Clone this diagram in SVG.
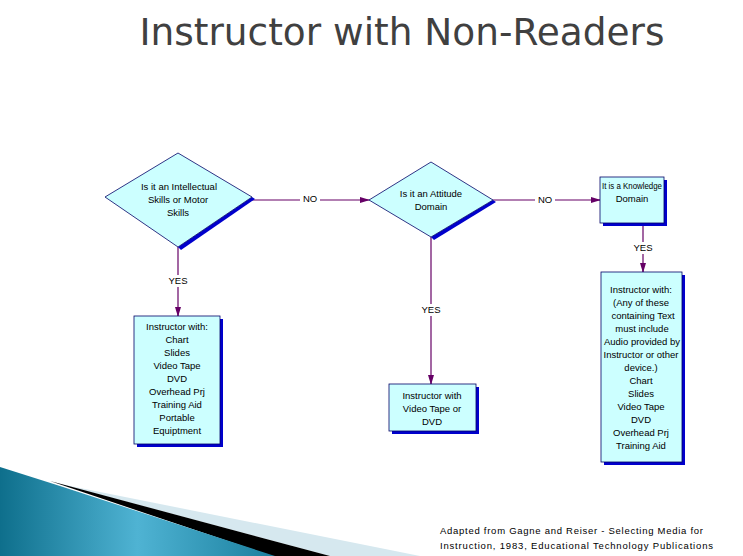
<svg xmlns="http://www.w3.org/2000/svg" width="743" height="556" viewBox="0 0 743 556">
<defs>
<style>
.t{font-family:"Liberation Sans",Arial,sans-serif;font-size:9.5px;fill:#000;text-anchor:middle}
.box{fill:#ccffff;stroke:#000066;stroke-width:0.8}
.sh{fill:#0000cc}
.ln{stroke:#660066;stroke-width:1.2;fill:none}
.lbl{font-family:"Liberation Sans",Arial,sans-serif;font-size:9.5px;text-anchor:middle;fill:#000}
</style>
<marker id="ah" markerWidth="10" markerHeight="8" refX="9" refY="4" orient="auto" markerUnits="userSpaceOnUse">
<path d="M0,1 L10,4 L0,7 Z" fill="#660066"/>
</marker>
<linearGradient id="wg" x1="0" y1="0" x2="1" y2="0">
<stop offset="0" stop-color="#0e6f8c"/>
<stop offset="0.5" stop-color="#4fb3d3"/>
<stop offset="1" stop-color="#1a7f9e"/>
</linearGradient>
</defs>
<rect width="743" height="556" fill="#fff"/>
<polygon points="60,484 420,556 330,556" fill="#d6e8ef"/>
<polygon points="50,481 330,556 272,556" fill="#000"/>
<polygon points="0,467 60,486 275,556 0,556" fill="url(#wg)"/>
<text x="402" y="45" font-family="'DejaVu Sans',sans-serif" font-size="37" fill="#404040" text-anchor="middle" textLength="525" lengthAdjust="spacingAndGlyphs">Instructor with Non-Readers</text>
<g id="connectors">
<line class="ln" x1="252" y1="200" x2="369" y2="200" marker-end="url(#ah)"/>
<line class="ln" x1="493" y1="200" x2="600" y2="200" marker-end="url(#ah)"/>
<line class="ln" x1="178" y1="247" x2="178" y2="316" marker-end="url(#ah)"/>
<line class="ln" x1="431" y1="237" x2="431" y2="384" marker-end="url(#ah)"/>
<line class="ln" x1="643" y1="223" x2="643" y2="272" marker-end="url(#ah)"/>
<rect x="300" y="193" width="20" height="12" fill="#fff"/><text class="lbl" x="310" y="202">NO</text>
<rect x="535" y="194" width="20" height="12" fill="#fff"/><text class="lbl" x="545" y="203">NO</text>
<rect x="165" y="275" width="26" height="12" fill="#fff"/><text class="lbl" x="178" y="284">YES</text>
<rect x="418" y="304" width="26" height="12" fill="#fff"/><text class="lbl" x="431" y="313">YES</text>
<rect x="630" y="242" width="26" height="12" fill="#fff"/><text class="lbl" x="643" y="251">YES</text>
</g>
<g id="d1">
<polygon class="sh" points="252,197 255,199 181,250 178,247"/>
<polygon class="box" points="105,197 178,153 252,197 178,247"/>
<text class="t" x="179" y="190">Is it an Intellectual</text>
<text class="t" x="178" y="203">Skills or Motor</text>
<text class="t" x="178" y="216">Skills</text>
</g>
<g id="d2">
<polygon class="sh" points="493,200 496,202 434,240 431,237"/>
<polygon class="box" points="369,200 431,162 493,200 431,237"/>
<text class="t" x="431" y="197">Is it an Attitude</text>
<text class="t" x="431" y="210">Domain</text>
</g>
<g id="b3">
<rect class="sh" x="603" y="180" width="64" height="46"/>
<rect class="box" x="600" y="177" width="64" height="46"/>
<text class="t" x="632" y="189" textLength="60" lengthAdjust="spacingAndGlyphs">It is a Knowledge</text>
<text class="t" x="632" y="202">Domain</text>
</g>
<g id="b1">
<rect class="sh" x="137" y="319" width="86" height="128"/>
<rect class="box" x="134" y="316" width="86" height="128"/>
<text class="t" x="177" y="330">Instructor with:</text>
<text class="t" x="177" y="343">Chart</text>
<text class="t" x="177" y="356">Slides</text>
<text class="t" x="177" y="369">Video Tape</text>
<text class="t" x="177" y="382">DVD</text>
<text class="t" x="177" y="395">Overhead Prj</text>
<text class="t" x="177" y="408">Training Aid</text>
<text class="t" x="177" y="421">Portable</text>
<text class="t" x="177" y="434">Equiptment</text>
</g>
<g id="b2">
<rect class="sh" x="392" y="387" width="87" height="47"/>
<rect class="box" x="389" y="384" width="87" height="47"/>
<text class="t" x="432" y="399">Instructor with</text>
<text class="t" x="432" y="412">Video Tape or</text>
<text class="t" x="432" y="425">DVD</text>
</g>
<g id="b4">
<rect class="sh" x="604" y="275" width="81" height="190"/>
<rect class="box" x="601" y="272" width="81" height="190"/>
<text class="t" x="641" y="293">Instructor with:</text>
<text class="t" x="641" y="306">(Any of these</text>
<text class="t" x="643" y="319">containing Text</text>
<text class="t" x="642" y="332">must include</text>
<text class="t" x="642" y="345">Audio provided by</text>
<text class="t" x="641" y="358">Instructor or other</text>
<text class="t" x="641" y="371">device.)</text>
<text class="t" x="641" y="384">Chart</text>
<text class="t" x="641" y="397">Slides</text>
<text class="t" x="641" y="410">Video Tape</text>
<text class="t" x="641" y="423">DVD</text>
<text class="t" x="641" y="436">Overhead Prj</text>
<text class="t" x="641" y="449">Training Aid</text>
</g>
<text x="440" y="534" font-family="'Liberation Sans',sans-serif" font-size="9.5" textLength="263" lengthAdjust="spacing">Adapted from Gagne and Reiser - Selecting Media for</text>
<text x="440" y="549" font-family="'Liberation Sans',sans-serif" font-size="9.5" textLength="273" lengthAdjust="spacing">Instruction, 1983, Educational Technology Publications</text>
</svg>
